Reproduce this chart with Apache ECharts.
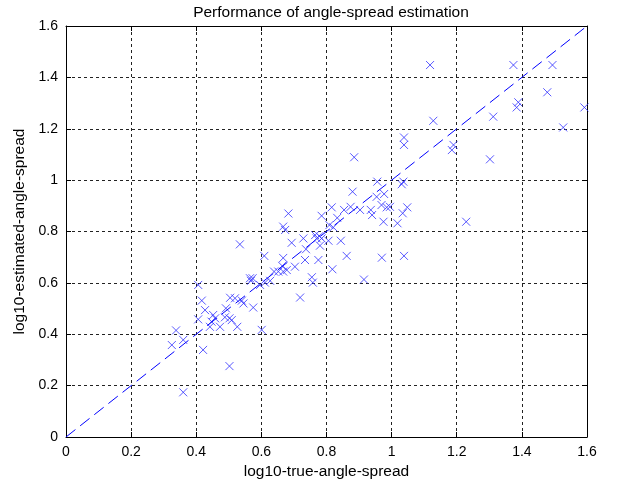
<!DOCTYPE html>
<html><head><meta charset="utf-8">
<script src="https://cdn.jsdelivr.net/npm/echarts@6/dist/echarts.min.js"></script>
<style>html,body{margin:0;padding:0;background:#fff}#c{width:624px;height:488px}</style>
</head><body><div id="c"></div>
<script>
var trueSpread = [1.118,1.374,1.494,1.478,1.389,1.384,1.592,1.312,1.128,1.527,1.038,1.038,1.190,1.185,1.302,0.885,1.229,0.956,1.036,1.031,0.880,0.977,0.954,0.683,0.816,0.854,0.874,0.903,0.936,0.940,0.969,0.985,0.995,1.048,1.034,0.785,0.833,0.809,0.821,0.975,1.018,0.667,0.673,0.765,0.778,0.785,0.770,0.806,0.844,0.729,0.693,0.737,0.780,0.534,0.609,0.667,0.734,0.775,0.703,0.664,0.862,0.970,1.038,0.818,0.639,0.652,0.667,0.678,0.755,0.758,0.915,0.565,0.573,0.568,0.611,0.627,0.596,0.719,0.406,0.417,0.504,0.519,0.540,0.545,0.575,0.491,0.427,0.452,0.458,0.447,0.488,0.502,0.509,0.406,0.442,0.473,0.526,0.338,0.360,0.325,0.421,0.601,0.502,0.360];
var estSpread = [1.448,1.448,1.448,1.342,1.303,1.283,1.283,1.247,1.231,1.205,1.166,1.137,1.137,1.117,1.081,1.089,0.838,0.994,0.994,0.984,0.955,0.946,0.935,0.870,0.894,0.884,0.896,0.884,0.884,0.864,0.903,0.894,0.896,0.894,0.871,0.861,0.853,0.825,0.816,0.838,0.832,0.819,0.806,0.786,0.782,0.773,0.773,0.764,0.764,0.773,0.756,0.731,0.745,0.750,0.705,0.697,0.689,0.689,0.663,0.666,0.705,0.698,0.705,0.653,0.644,0.644,0.644,0.650,0.622,0.601,0.613,0.618,0.618,0.608,0.601,0.608,0.592,0.543,0.592,0.531,0.542,0.540,0.531,0.520,0.504,0.501,0.494,0.475,0.462,0.449,0.466,0.462,0.455,0.458,0.429,0.429,0.429,0.415,0.378,0.358,0.339,0.417,0.276,0.174];
var refLineX = [0, 1.6];
var refLineY = [0, 1.6];
var titleText = 'Performance of angle-spread estimation';
var xName = 'log10-true-angle-spread';
var yName = 'log10-estimated-angle-spread';

var pts = trueSpread.map(function(x,i){return [x, estSpread[i]];});
var ref = refLineX.map(function(x,i){return [x, refLineY[i]];});
var font = '"Liberation Sans", Arial, sans-serif';
var chart = echarts.init(document.getElementById('c'), null, {renderer:'canvas'});
function axisCommon(){
  return {
    type:'value', min:0, max:1.6, interval:0.2,
    axisLine:{show:true, onZero:false, lineStyle:{color:'#000', width:1}},
    axisTick:{show:true, inside:true, length:5, lineStyle:{color:'#000'}},
    splitLine:{show:true, lineStyle:{color:'#222', width:1, type:[3,3]}},
    axisLabel:{color:'#000', fontSize:14, fontFamily:font},
    nameTextStyle:{color:'#000', fontSize:15.5, fontFamily:font}
  };
}
var xa = axisCommon(); xa.name = xName; xa.nameLocation='middle'; xa.nameGap=26; xa.axisLabel.margin=8;
var ya = axisCommon(); ya.name = yName; ya.nameLocation='middle'; ya.nameGap=36; ya.axisLabel.margin=8;
var xTop = axisCommon(); xTop.position='top'; xTop.axisLabel={show:false}; xTop.splitLine={show:false};
var yRight = axisCommon(); yRight.position='right'; yRight.axisLabel={show:false}; yRight.splitLine={show:false};
chart.setOption({
  backgroundColor:'#fff',
  animation:false,
  title:{text:titleText, left:326, top:0, textAlign:'center',
    textStyle:{color:'#000', fontSize:15.5, fontWeight:'normal', fontFamily:font}},
  grid:{left:66, top:26, right:37, bottom:51, show:false},
  xAxis:[xa, xTop],
  yAxis:[ya, yRight],
  series:[
    {type:'line', data:ref, symbol:'none', silent:true,
     lineStyle:{color:'#0000ff', width:1, type:[12,6]}},
    {type:'scatter', data:pts, symbol:'path://M0,0L10,10M10,0L0,10', symbolSize:8,
     itemStyle:{color:'rgba(0,0,0,0)', borderColor:'#3030ff', borderWidth:1}}
  ]
});
</script></body></html>
